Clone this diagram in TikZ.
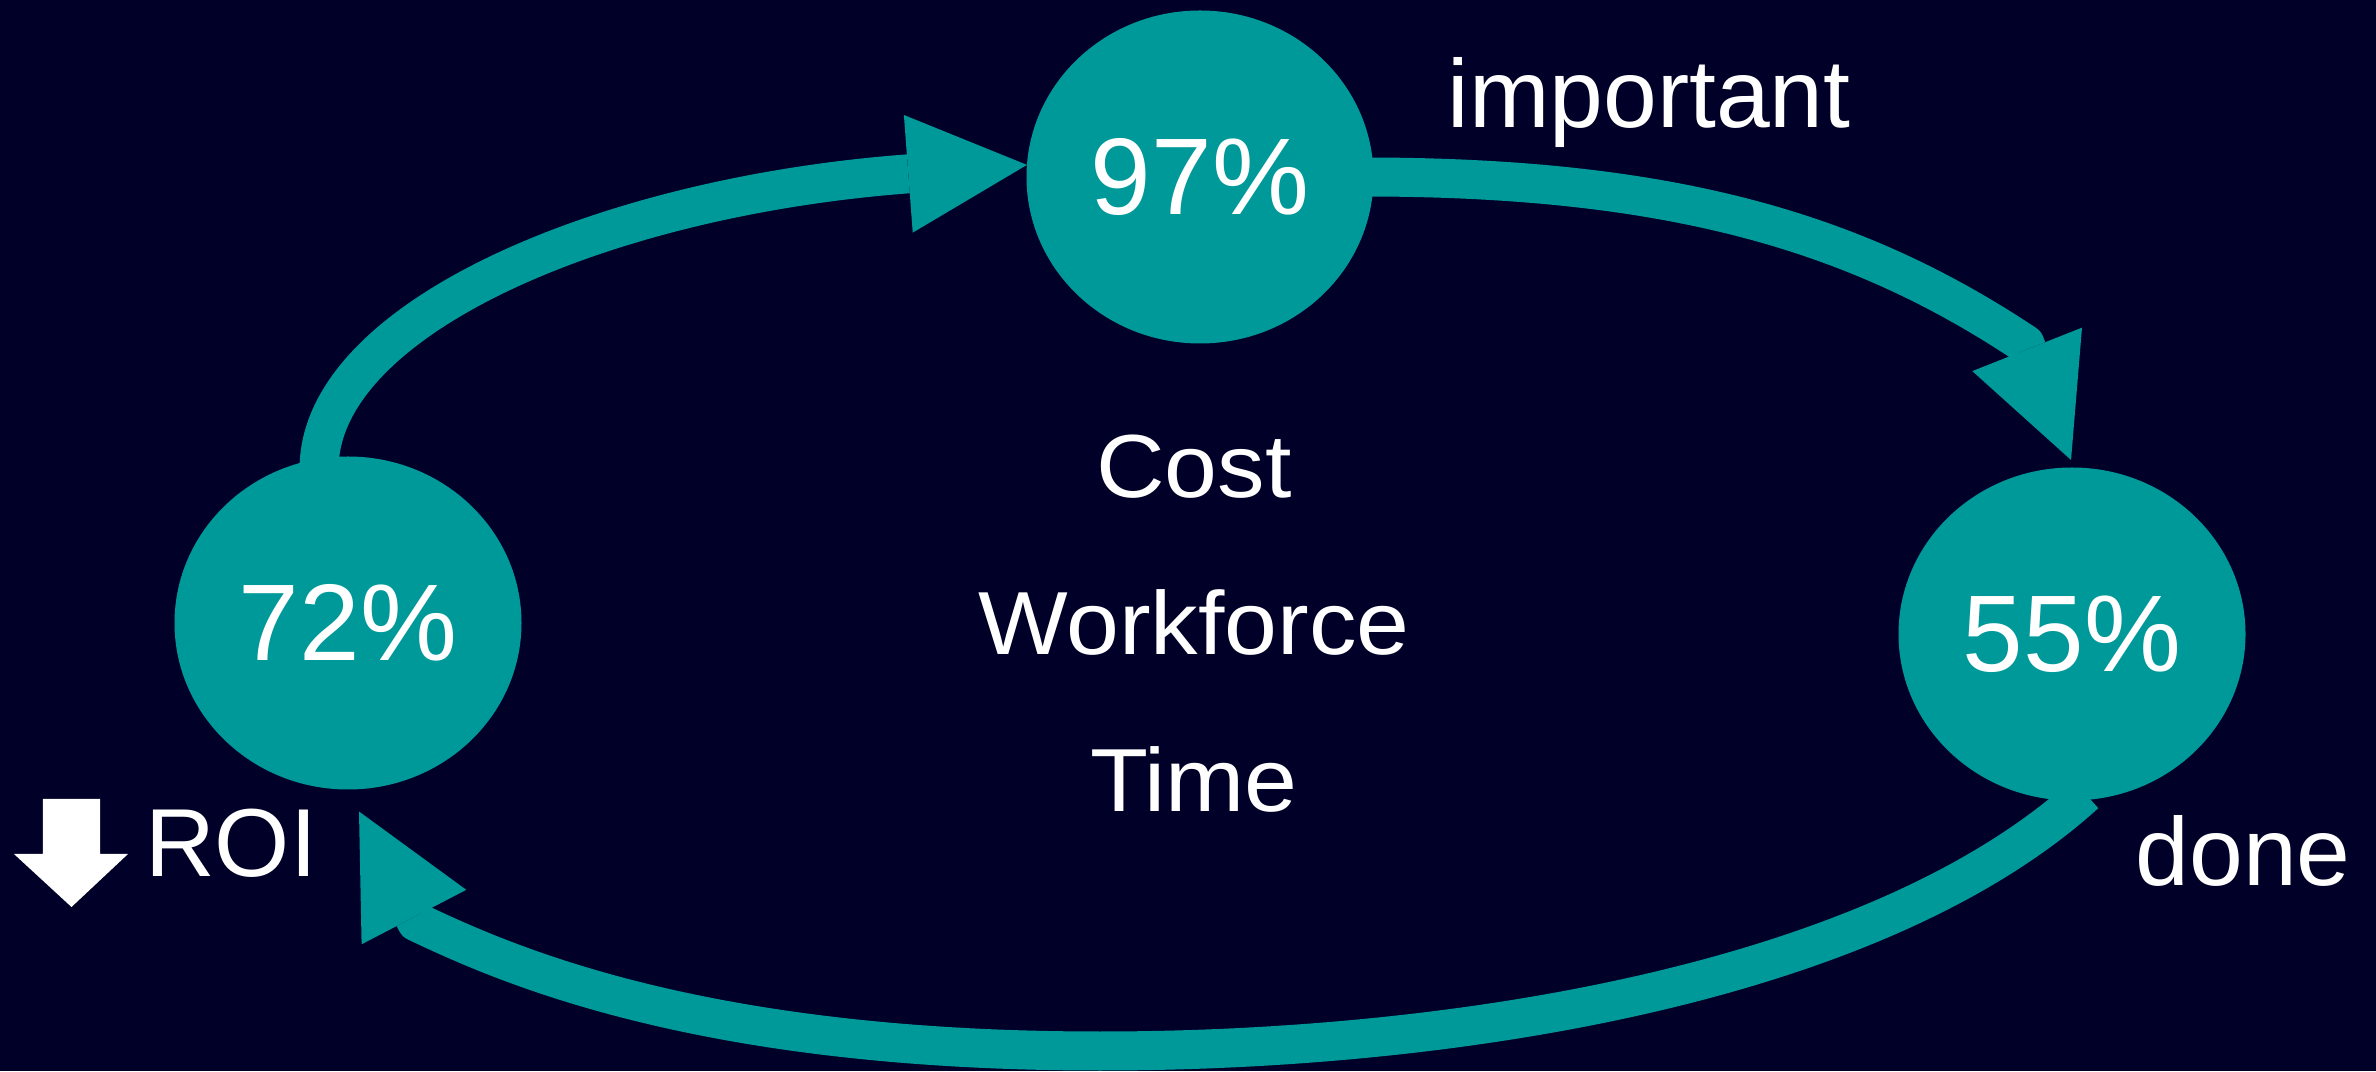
\documentclass[tikz,border=0pt]{standalone}
\usepackage{fontspec}
\setmainfont{Liberation Sans}
\newfontfamily\widefont{Liberation Sans}[FakeStretch=1.06]
\usetikzlibrary{shapes.geometric,arrows.meta}
\definecolor{slidebg}{RGB}{0,0,40}
\definecolor{cycleteal}{RGB}{0,153,153}

\begin{document}
\begin{tikzpicture}[
		pct/.style={ellipse,fill=cycleteal,text=white,inner sep=0pt,outer sep=0pt,
			minimum width=3.47cm,minimum height=3.33cm,font=\fontsize{31}{37}\selectfont},
		lbl/.style={text=white,inner sep=0pt,anchor=base,font=\fontsize{27.5}{33}\selectfont},
		mid/.style={text=white,inner sep=0pt,anchor=base,font=\widefont\fontsize{25.5}{31}\selectfont},
		flow/.style={draw=cycleteal,line width=0.39cm,line join=round,shorten <=-1mm,
			-{Triangle[length=1.19cm,width=1.18cm,line width=0pt]}}]
		\useasboundingbox (0,0) rectangle (23.76,10.71);
		\fill[slidebg] (0,0) rectangle (23.76,10.71);
		\node[pct](n97) at (12.00,8.94){97\%};
		\node[pct](n72) at (3.48,4.48){72\%};
		\node[pct](n55) at (20.72,4.37){55\%};
		\coordinate (in55) at ([xshift=-0.1mm,yshift=0.75mm]n55.north);
		\coordinate (back) at ([xshift=1.1mm,yshift=-2.2mm]n72.south);
		\draw[flow] (n72.100) .. controls (3.19,7.51) and (6.00,8.74) .. (n97.176);
		\draw[flow] (n97.east) .. controls (16.74,8.94) and (18.58,8.38) .. (20.25,7.27) -- (in55);
		\draw[flow] (n55.-88) .. controls (18.745,0.86) and (14.50,0.20) .. (11.00,0.20)
			.. controls (7.00,0.20) and (5.07,1.06) .. (4.165,1.49) -- (back);
		\node[mid](cost) at (11.94,5.73){Cost};
		\node[mid](work) at (11.94,4.16){Workforce};
		\node[mid](time) at (11.94,2.59){Time};
		\node[lbl](imp) at (16.49,9.43){important};
		\node[lbl](done) at (22.43,1.85){done};
		\node[lbl](roi) at (2.31,1.94){ROI};
		\fill[white] (0.43,2.72) -- (1.00,2.72) -- (1.00,2.17) -- (1.28,2.17)
			-- (0.715,1.64) -- (0.14,2.17) -- (0.43,2.17) -- cycle;
	\end{tikzpicture}
\end{document}
